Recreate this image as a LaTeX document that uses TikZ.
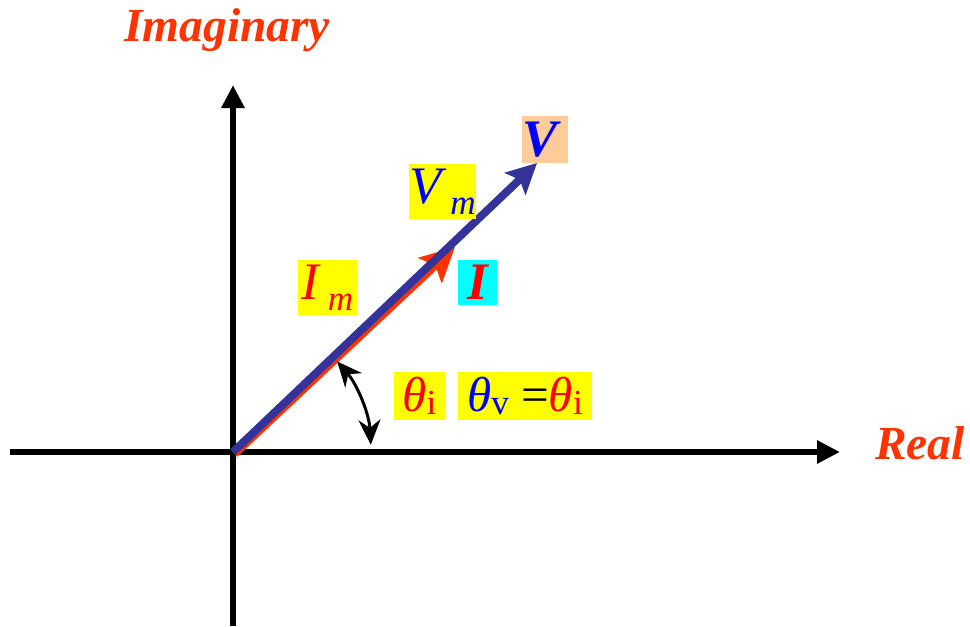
\documentclass[tikz,border=0pt]{standalone}
\usepackage{fontspec}
\setmainfont{Liberation Serif}
\usetikzlibrary{arrows.meta, positioning}
\definecolor{AxisOrange}{RGB}{255,51,0}
\definecolor{PhasorBlue}{RGB}{51,51,153}
\definecolor{TextBlue}{RGB}{0,0,255}
\definecolor{TextRed}{RGB}{255,0,0}
\definecolor{Peach}{RGB}{255,204,153}
\definecolor{TagYellow}{RGB}{255,255,0}
\definecolor{TagCyan}{RGB}{0,255,255}
\newcommand{\lowsub}[2][-4pt]{\raisebox{#1}{\fontsize{20}{20}\selectfont #2}}
\tikzset{
  axis/.style={line width=3.4pt, -{Triangle[length=0.46cm,width=0.44cm]}},
  tag/.style={inner sep=0pt, font=\fontsize{30}{30}\selectfont\itshape},
  axlabel/.style={AxisOrange, font=\fontsize{27}{27}\selectfont\bfseries\itshape},
  phasor/.style={line width=4.5pt, -{Stealth[length=0.6cm,width=0.6cm,inset=0.12cm]}},
}

\begin{document}
\begin{tikzpicture}
  \useasboundingbox (-4.66,-3.48) rectangle (14.74,9.04);

  % Axes
  \coordinate (O) at (0,0);
  \coordinate (xl) at (-4.46,0);
  \coordinate (xr) at (12.14,0);
  \coordinate (yb) at (0,-3.48);
  \coordinate (yt) at (0,7.34);
  \draw[axis] (xl) -- (xr);
  \draw[axis] (yb) -- (yt);
  \node[axlabel] (imag) at (-0.12,8.44) {Imaginary};
  \node[axlabel] (real) at (13.74,0.18) {Real};

  % Phasors
  \coordinate (Ostart) at (0.035,-0.035);
  \coordinate (Itip) at (4.44,4.10);
  \coordinate (Vtip) at (6.08,5.78);
  \draw[phasor, AxisOrange, -{Stealth[length=0.68cm,width=0.68cm,inset=0.14cm]}] (Ostart) -- (Itip);
  \draw[phasor, PhasorBlue] (O) -- (Vtip);

  % Angle
  \coordinate (arcA) at (41:2.76);
  \draw[line width=1.7pt, {Stealth[length=0.5cm,width=0.44cm]}-{Stealth[length=0.5cm,width=0.44cm]}]
    (arcA) arc[start angle=41, end angle=3, radius=2.76];

  % Labels
  \node[tag, fill=Peach, text width=0.92cm, minimum height=0.94cm, align=left, text=TextBlue, font=\fontsize{30}{30}\selectfont\bfseries\itshape] (Vlbl) at (6.24,6.25) {V};
  \node[tag, fill=TagYellow, minimum width=1.30cm, minimum height=1.10cm, text=TextBlue] (Vm) at (4.19,5.21) {V\,\lowsub[-6pt]{m}};
  \node[tag, fill=TagYellow, minimum width=1.18cm, minimum height=1.10cm, text=TextRed] (Im) at (1.89,3.29) {I\,\lowsub[-6pt]{m}};
  \node[tag, fill=TagCyan, minimum width=0.78cm, minimum height=0.90cm, text=TextRed, font=\fontsize{30}{30}\selectfont\bfseries\itshape] (Ilbl) at (4.89,3.39) {I};
  \node[tag, fill=TagYellow, minimum width=1.02cm, minimum height=0.96cm, text=TextRed] (thi) at (3.73,1.12) {\fontsize{28}{28}\selectfont θ\lowsub[-2pt]{\upshape i}};
  \node[tag, fill=TagYellow, minimum width=2.68cm, minimum height=0.96cm] (thv) at (5.84,1.12)
    {\fontsize{28}{28}\selectfont\color{TextBlue}θ\lowsub[-2pt]{\upshape v} \color{black}\upshape=\itshape\color{TextRed}θ\lowsub[-2pt]{\upshape i}};
\end{tikzpicture}
\end{document}
